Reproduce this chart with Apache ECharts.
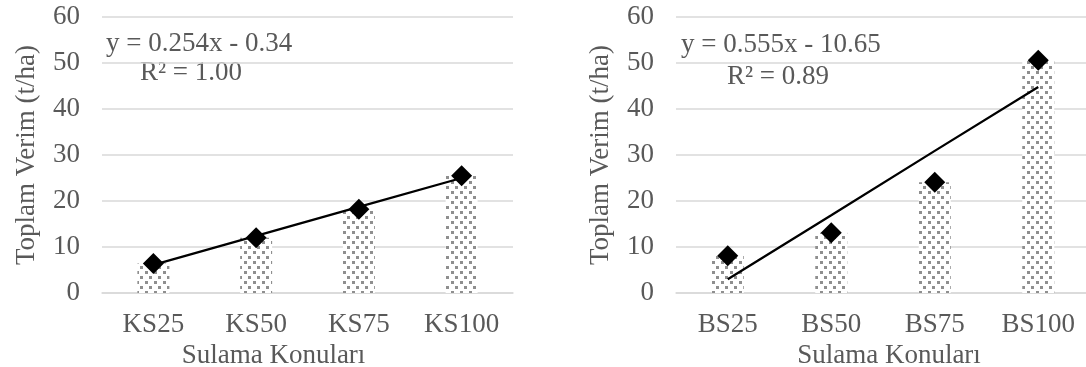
<!DOCTYPE html>
<html>
<head>
<meta charset="utf-8">
<script src="https://cdn.jsdelivr.net/npm/echarts@6/dist/echarts.min.js"></script>
<style>
html,body{margin:0;padding:0;background:#fff;}
#c{width:1086px;height:367px;}
</style>
</head>
<body>
<div id="c"></div>
<script>
// ---- data ----
const ksCategories = ['KS25', 'KS50', 'KS75', 'KS100'];
const ksValues = [6.4, 12.0, 18.2, 25.5];
const ksTrend = [6.1, 12.4, 18.7, 25.0];
const ksEquation = 'y = 0.254x - 0.34';
const ksR2 = 'R² = 1.00';

const bsCategories = ['BS25', 'BS50', 'BS75', 'BS100'];
const bsValues = [8.1, 13.1, 24.1, 50.6];
const bsTrend = [3.0, 16.9, 30.9, 44.8];
const bsEquation = 'y = 0.555x - 10.65';
const bsR2 = 'R² = 0.89';

const yTicks = [0, 10, 20, 30, 40, 50, 60];
const xTitle = 'Sulama Konuları';
const yTitle = 'Toplam Verim (t/ha)';

// ---- pattern for bars ----
function makePattern() {
  const c = document.createElement('canvas');
  c.width = 9; c.height = 10;
  const g = c.getContext('2d');
  g.fillStyle = '#ffffff';
  g.fillRect(0, 0, 9, 10);
  g.fillStyle = '#8f8f8f';
  g.fillRect(1, 1, 3, 3);
  g.fillRect(5, 6, 3, 3);
  return c;
}
const pattern = { image: makePattern(), repeat: 'repeat' };

const FONT = '"Liberation Serif", "Times New Roman", serif';
const FS = 27;
const TXT = '#595959';
const GRIDC = '#d9d9d9';

function xAxisFor(idx, cats, namePad) {
  return {
    type: 'category', gridIndex: idx, data: cats,
    axisTick: { show: false },
    axisLine: { show: true, lineStyle: { color: GRIDC, width: 1.5 } },
    axisLabel: { color: TXT, fontFamily: FONT, fontSize: FS, margin: 18 },
    name: xTitle, nameLocation: 'middle', nameGap: 43,
    nameTextStyle: { color: TXT, fontFamily: FONT, fontSize: FS, padding: namePad }
  };
}
function yAxisFor(idx) {
  return {
    type: 'value', gridIndex: idx, min: yTicks[0], max: yTicks[yTicks.length - 1], interval: 10,
    axisLine: { show: false }, axisTick: { show: false },
    splitLine: { show: true, lineStyle: { color: GRIDC, width: 1.5 } },
    axisLabel: { color: TXT, fontFamily: FONT, fontSize: FS, margin: 22 },
    name: yTitle, nameLocation: 'middle', nameGap: 62,
    nameTextStyle: { color: TXT, fontFamily: FONT, fontSize: FS }
  };
}
function seriesFor(idx, vals, trend) {
  return [
    { type: 'bar', xAxisIndex: idx, yAxisIndex: idx, data: vals, barWidth: 32,
      itemStyle: { color: pattern }, silent: true },
    { type: 'line', xAxisIndex: idx, yAxisIndex: idx, data: trend, showSymbol: false,
      lineStyle: { color: '#000', width: 2.3 }, silent: true, z: 3 },
    { type: 'scatter', xAxisIndex: idx, yAxisIndex: idx, data: vals, symbol: 'diamond',
      symbolSize: 21, itemStyle: { color: '#000', opacity: 1 }, silent: true, z: 4 }
  ];
}

const chart = echarts.init(document.getElementById('c'), null, { renderer: 'canvas' });
chart.setOption({
  animation: false,
  backgroundColor: '#fff',
  grid: [
    { left: 102, top: 17, width: 411, height: 276, outerBoundsMode: 'none', containLabel: false },
    { left: 676, top: 17, width: 414, height: 276, outerBoundsMode: 'none', containLabel: false }
  ],
  xAxis: [xAxisFor(0, ksCategories, [0, 68, 0, 0]), xAxisFor(1, bsCategories, [0, 0, 0, 12])],
  yAxis: [yAxisFor(0), yAxisFor(1)],
  series: [].concat(seriesFor(0, ksValues, ksTrend), seriesFor(1, bsValues, bsTrend)),
  graphic: [
    { type: 'text', left: 106, top: 30, style: { text: ksEquation, fill: TXT, font: FS + 'px ' + FONT } },
    { type: 'text', left: 140, top: 59, style: { text: ksR2, fill: TXT, font: FS + 'px ' + FONT } },
    { type: 'text', left: 681, top: 31, style: { text: bsEquation, fill: TXT, font: FS + 'px ' + FONT } },
    { type: 'text', left: 727, top: 63, style: { text: bsR2, fill: TXT, font: FS + 'px ' + FONT } }
  ]
});
</script>
</body>
</html>
